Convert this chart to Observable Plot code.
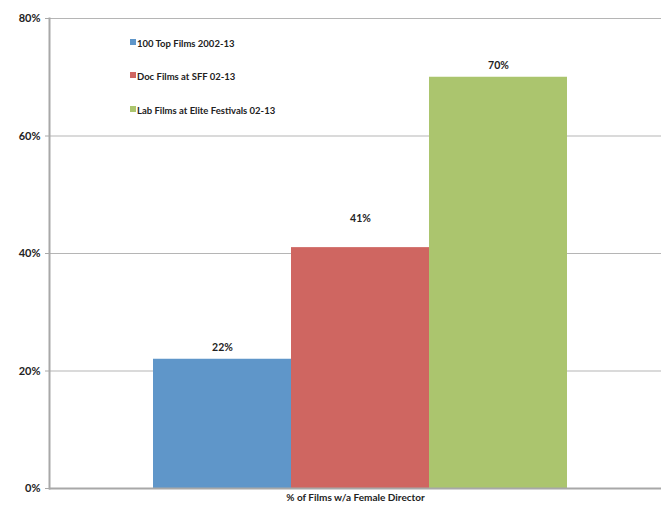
<!DOCTYPE html>
<html>
<head>
<meta charset="utf-8">
<script src="https://cdn.jsdelivr.net/npm/d3@7"></script>
<script src="https://cdn.jsdelivr.net/npm/@observablehq/plot@0.6"></script>
<style>
  html, body { margin: 0; padding: 0; background: #fff; }
  #wrap { position: relative; width: 661px; height: 506px; font-family: Lato, "Open Sans", sans-serif; }
  #legend { position: absolute; left: 130px; top: 37px; font-size: 9.5px; font-weight: bold; color: #222; }
  #legend .item { display: flex; align-items: center; height: 12px; margin-bottom: 21.5px; }
  #legend .sw { width: 6px; height: 6px; margin-right: 1px; margin-top: -3px; }
</style>
</head>
<body>
<div id="wrap"><div id="legend"></div></div>
<script>
const series = ["100 Top Films 2002-13", "Doc Films at SFF 02-13", "Lab Films at Elite Festivals 02-13"];
const values = [22, 41, 70];
const colors = ["#5F96C9", "#CF6661", "#ABC56E"];
const yTicks = [0, 20, 40, 60, 80];
const xLabel = "% of Films w/a Female Director";

const data = series.map((s, i) => ({series: s, value: values[i]}));
const raised = series[1];

const chart = Plot.plot({
  width: 661,
  height: 506,
  marginTop: 18,
  marginBottom: 18,
  marginLeft: 49,
  marginRight: 0,
  style: {fontFamily: "Lato, 'Open Sans', sans-serif", fontSize: "10px", background: "#fff"},
  x: {domain: series, range: [153, 567], paddingInner: 0, paddingOuter: 0, axis: null},
  y: {domain: [0, 80], axis: null},
  color: {domain: series, range: colors},
  marks: [
    Plot.ruleY(yTicks.filter(d => d > 0), {stroke: "#b5b5b5", strokeWidth: 1.2}),
    Plot.barY(data, {x: "series", y: "value", fill: "series", inset: 0}),
    Plot.text(data, {filter: d => d.series !== raised, x: "series", y: "value", text: d => d.value + "%", dy: -12, fontWeight: "bold", fontSize: 10.5, fill: "#222"}),
    Plot.text(data, {filter: d => d.series === raised, x: "series", y: "value", text: d => d.value + "%", dy: -29, fontWeight: "bold", fontSize: 10.5, fill: "#222"}),
    Plot.ruleY([0], {stroke: "#a8a8a8", strokeWidth: 2}),
    Plot.frame({anchor: "left", stroke: "#a8a8a8", strokeWidth: 2}),
    Plot.axisY({ticks: yTicks, tickSize: 4, tickPadding: 5, tickFormat: d => d + "%", fontWeight: "bold", fontSize: 11, stroke: "#a8a8a8", fill: "#222", label: null}),
    Plot.text([xLabel], {frameAnchor: "bottom", dy: 12, fontWeight: "bold", fontSize: 10, fill: "#222"})
  ]
});

const wrap = document.getElementById("wrap");
wrap.insertBefore(chart, wrap.firstChild);

const legend = document.getElementById("legend");
series.forEach((s, i) => {
  const item = document.createElement("div");
  item.className = "item";
  const sw = document.createElement("span");
  sw.className = "sw";
  sw.style.background = colors[i];
  const t = document.createElement("span");
  t.textContent = s;
  item.appendChild(sw);
  item.appendChild(t);
  legend.appendChild(item);
});
</script>
</body>
</html>
